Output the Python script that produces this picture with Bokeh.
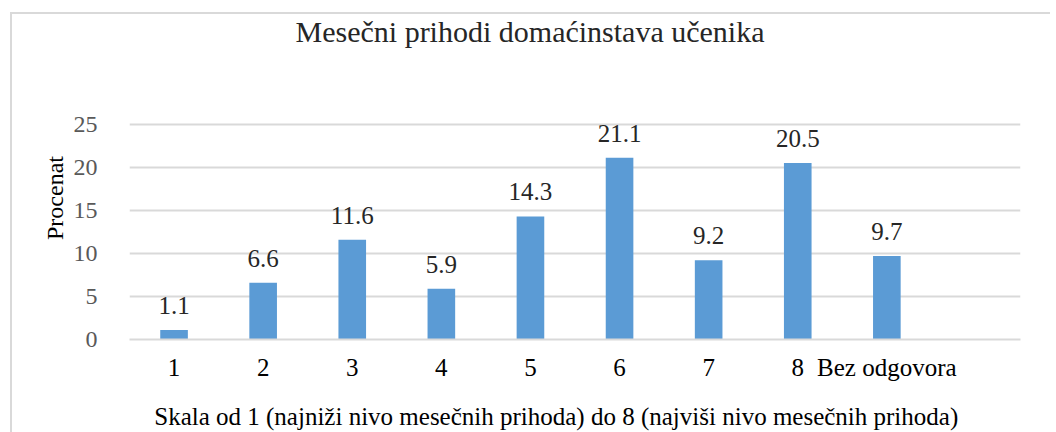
from bokeh.plotting import figure
from bokeh.models import FactorRange, Range1d, FixedTicker, ColumnDataSource, LabelSet, Title
from bokeh.embed import file_html
from bokeh.resources import INLINE

categories = ["1", "2", "3", "4", "5", "6", "7", "8", "Bez odgovora"]
values = [1.1, 6.6, 11.6, 5.9, 14.3, 21.1, 9.2, 20.5, 9.7]
labels = ["1.1", "6.6", "11.6", "5.9", "14.3", "21.1", "9.2", "20.5", "9.7"]
y_ticks = [0, 5, 10, 15, 20, 25]

title = "Mesečni prihodi domaćinstava učenika"
x_title = "Skala od 1 (najniži nivo mesečnih prihoda) do 8 (najviši nivo mesečnih prihoda)"
y_title = "Procenat"

FONT = "Liberation Serif"
GRID = "#d9d9d9"

src = ColumnDataSource(dict(x=categories, top=values, label=labels))

p = figure(
    width=1040, height=424,
    x_range=FactorRange(*(categories + [" "]), range_padding=0),
    y_range=Range1d(0, 32.87),
    output_backend="svg", toolbar_location=None,
    min_border_left=119, min_border_right=30, min_border_bottom=0, min_border_top=0,
)
# light grey page frame (left and top edges) drawn behind the transparent canvas
p.styles = {
    "margin-left": "10px", "margin-top": "8px",
    "background": ("linear-gradient(#d9d9d9, #d9d9d9) 0px 4px / 100% 2px no-repeat, "
                   "linear-gradient(#d9d9d9, #d9d9d9) 0px 4px / 2px 100% no-repeat"),
}
p.border_fill_color = None
p.background_fill_color = None
p.outline_line_color = None

p.vbar(x="x", top="top", width=0.31, source=src, color="#5b9bd5", line_color=None)

p.add_layout(LabelSet(x="x", y="top", text="label", source=src, y_offset=16,
                      text_align="center", text_baseline="alphabetic",
                      text_font=FONT, text_font_size="25px", text_color="#262626"))

p.add_layout(Title(text=title, align="left", offset=166, standoff=13,
                   vertical_align="top",
                   text_font=FONT, text_font_size="30px", text_font_style="normal",
                   text_color="#262626"), "above")

p.xgrid.grid_line_color = None
p.ygrid.grid_line_color = GRID
p.ygrid.grid_line_width = 2
p.yaxis.ticker = FixedTicker(ticks=y_ticks)

p.yaxis.axis_line_color = None
p.yaxis.major_tick_line_color = None
p.yaxis.minor_tick_line_color = None
p.yaxis.major_label_standoff = 26
p.yaxis.major_label_text_font = FONT
p.yaxis.major_label_text_font_size = "24px"
p.yaxis.major_label_text_color = "#595959"
p.yaxis.axis_label = y_title
p.yaxis.axis_label_standoff = 3
p.yaxis.axis_label_text_font = FONT
p.yaxis.axis_label_text_font_size = "24px"
p.yaxis.axis_label_text_font_style = "normal"
p.yaxis.axis_label_text_color = "#000000"

p.xaxis.axis_line_color = GRID
p.xaxis.axis_line_width = 2
p.xaxis.major_tick_line_color = None
p.xaxis.minor_tick_line_color = None
p.xaxis.major_label_standoff = 8
p.xaxis.major_label_text_font = FONT
p.xaxis.major_label_text_font_size = "25px"
p.xaxis.major_label_text_color = "#000000"
# trailing no-break spaces shift the centred axis title left, as in the original
p.xaxis.axis_label = x_title + "\u00a0" * 6
p.xaxis.axis_label_standoff = 19
p.xaxis.axis_label_text_font = FONT
p.xaxis.axis_label_text_font_size = "25px"
p.xaxis.axis_label_text_font_style = "normal"
p.xaxis.axis_label_text_color = "#000000"

open("out.html", "w").write(file_html(p, INLINE))
